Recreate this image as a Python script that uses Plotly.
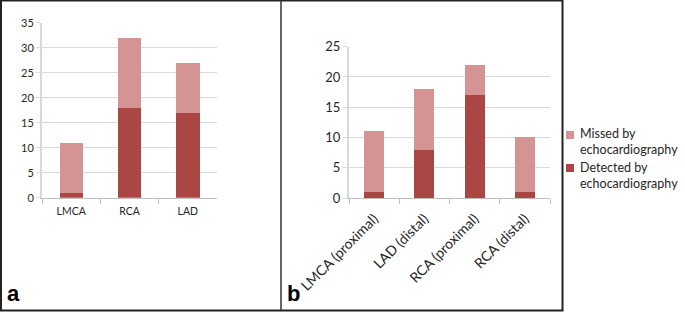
import plotly.graph_objects as go

W, H = 685, 312

# Panel a data
cats_a = ["LMCA", "RCA", "LAD"]
detected_a = [1, 18, 17]
missed_a = [10, 14, 10]

# Panel b data
cats_b = ["LMCA (proximal)", "LAD (distal)", "RCA (proximal)", "RCA (distal)"]
detected_b = [1, 8, 17, 1]
missed_b = [10, 10, 5, 9]

ticks_a = [0, 5, 10, 15, 20, 25, 30, 35]
ticks_b = [0, 5, 10, 15, 20, 25]

series_names = ["Detected by<br>echocardiography", "Missed by<br>echocardiography"]
DARK = "#AA4644"
LIGHT = "#D59494"
FONT = "Lato"


def px(x):
    return x / W


def py(y):
    return 1 - y / H


fig = go.Figure()
fig.add_trace(go.Bar(x=cats_a, y=detected_a, name=series_names[0], marker_color=DARK,
                     xaxis="x", yaxis="y", showlegend=False))
fig.add_trace(go.Bar(x=cats_a, y=missed_a, name=series_names[1], marker_color=LIGHT,
                     xaxis="x", yaxis="y", showlegend=False))
fig.add_trace(go.Bar(x=cats_b, y=detected_b, name=series_names[0], marker_color=DARK,
                     xaxis="x2", yaxis="y2", showlegend=False))
fig.add_trace(go.Bar(x=cats_b, y=missed_b, name=series_names[1], marker_color=LIGHT,
                     xaxis="x2", yaxis="y2", showlegend=False))

grid = "#D9D9D9"
axcol = "#BFBFBF"
txt = "#262626"

common_x = dict(type="category", showline=True, linecolor=axcol, linewidth=1,
                ticks="outside", tickson="boundaries", ticklen=5, tickcolor=axcol,
                showgrid=False, zeroline=False, automargin=False)
common_y = dict(showline=True, linecolor=grid, linewidth=2, ticks="outside", ticklen=4,
                tickcolor=grid, showgrid=True, gridcolor=grid, gridwidth=1, zeroline=False,
                automargin=False)

fig.update_layout(
    template="none",
    width=W, height=H,
    margin=dict(l=0, r=0, t=0, b=0, autoexpand=False),
    paper_bgcolor="white", plot_bgcolor="white",
    barmode="stack", bargap=0.6,
    showlegend=False,
    font=dict(family=FONT, color=txt),
    xaxis=dict(domain=[px(42), px(217)], anchor="y", range=[-0.5, 2.5],
               tickfont=dict(size=10.5, color=txt), ticklabelstandoff=4, **common_x),
    yaxis=dict(domain=[py(197.7), py(22.7)], anchor="x", range=[0, 35],
               tickvals=ticks_a, tickfont=dict(size=11, color=txt), **common_y),
    xaxis2=dict(domain=[px(349), px(550)], anchor="y2", range=[-0.5, 3.5],
                tickangle=-45, tickfont=dict(size=14, color=txt), ticklabelstandoff=6,
                **common_x),
    yaxis2=dict(domain=[py(198), py(46.7)], anchor="x2", range=[0, 25],
                tickvals=ticks_b, tickfont=dict(size=13, color=txt), **common_y),
)

shapes = [
    dict(type="rect", xref="paper", yref="paper", x0=px(1), x1=px(562.5), y0=py(310.5), y1=py(0.5),
         line=dict(color="#222222", width=2), fillcolor="rgba(0,0,0,0)", layer="above"),
    dict(type="line", xref="paper", yref="paper", x0=px(281), x1=px(281), y0=py(310.5), y1=py(0.5),
         line=dict(color="#333333", width=1.5), layer="above"),
]

# Legend (drawn manually so the text can sit close to the swatch, as in the original)
legend_items = [(series_names[1], LIGHT, 135, 142), (series_names[0], DARK, 168, 175.5)]
for name, col, sq_y, txt_y in legend_items:
    shapes.append(dict(type="rect", xref="paper", yref="paper",
                       x0=px(566), x1=px(574), y0=py(sq_y + 4), y1=py(sq_y - 4),
                       line=dict(width=0), fillcolor=col))
    fig.add_annotation(text=name, x=px(578), y=py(txt_y), xref="paper", yref="paper",
                       xanchor="left", yanchor="middle", align="left", showarrow=False,
                       font=dict(family=FONT, size=12.5, color=txt))
fig.update_layout(shapes=shapes)

fig.add_annotation(text="<b>a</b>", x=px(5), y=py(308), xref="paper", yref="paper",
                   xanchor="left", yanchor="bottom", showarrow=False,
                   font=dict(family="Liberation Sans", size=22, color="black"))
fig.add_annotation(text="<b>b</b>", x=px(285), y=py(308), xref="paper", yref="paper",
                   xanchor="left", yanchor="bottom", showarrow=False,
                   font=dict(family="Liberation Sans", size=22, color="black"))

fig.write_html("out.html", config={"displayModeBar": False},
               post_script="document.body.style.margin='0';document.body.style.overflow='hidden';")
